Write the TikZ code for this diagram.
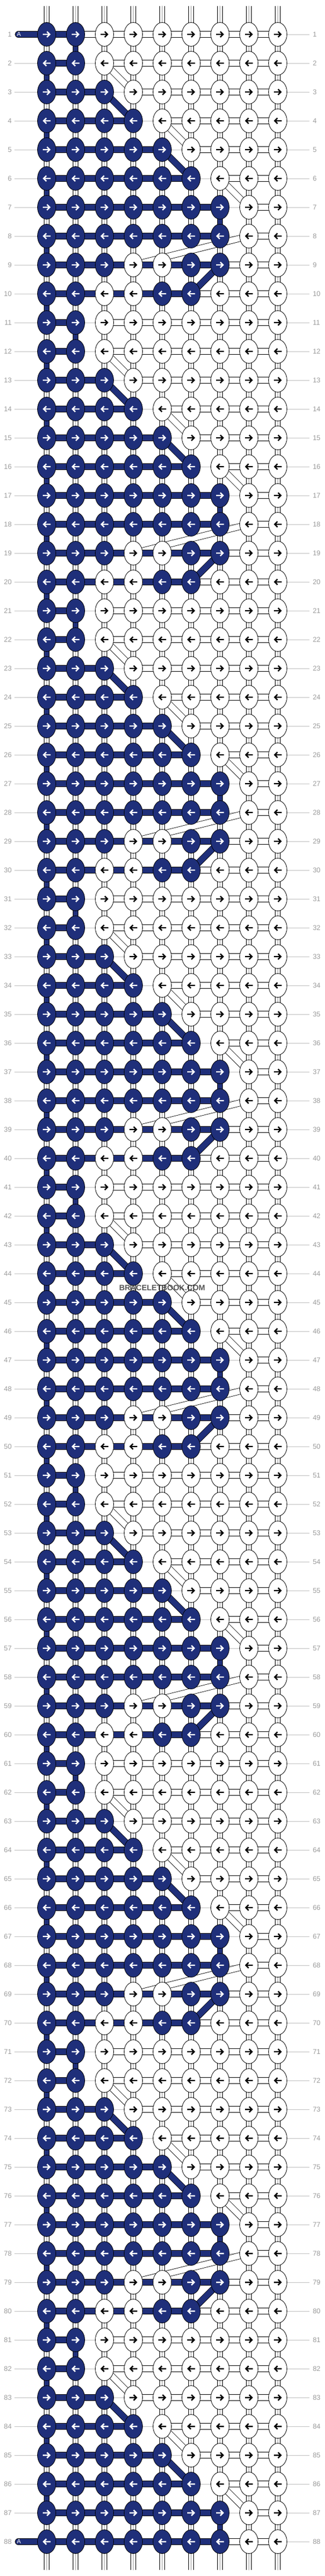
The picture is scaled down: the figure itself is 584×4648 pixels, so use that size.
\documentclass[tikz,border=0pt]{standalone}
\usepackage{fontspec}
\setmainfont{Liberation Sans}
\usetikzlibrary{shapes.geometric}

\definecolor{threadblue}{RGB}{31,47,122}
\definecolor{rowgray}{RGB}{192,192,192}
\definecolor{numgray}{RGB}{155,155,155}
\definecolor{coregray}{RGB}{200,200,200}

% The pattern repeats every ten rows
% knots of each row, 1 = blue
\def\knotmap{{1,1,0,0,0,0,0,0,0,%
1,1,0,0,0,0,0,0,0,%
1,1,1,0,0,0,0,0,0,%
1,1,1,1,0,0,0,0,0,%
1,1,1,1,1,0,0,0,0,%
1,1,1,1,1,1,0,0,0,%
1,1,1,1,1,1,1,0,0,%
1,1,1,1,1,1,1,0,0,%
1,1,1,0,0,1,1,0,0,%
1,1,0,0,1,1,0,0,0}}
% links between neighbour knots, 0 = none, 1 = white, 2 = blue
\def\linkmap{{2,0,1,1,1,1,1,1,%
2,0,1,1,1,1,1,1,%
2,2,0,1,1,1,1,1,%
2,2,2,0,1,1,1,1,%
2,2,2,2,0,1,1,1,%
2,2,2,2,2,0,1,1,%
2,2,2,2,2,2,0,1,%
2,2,2,2,2,2,0,1,%
2,2,2,2,2,2,1,1,%
2,2,2,2,2,1,1,1}}
% column where the blue thread goes down to the next row, 0 = nowhere
\def\dropmap{{2,1,0,1,0,1,7,1,0,1}}

\tikzset{
  knot/.style={ellipse, draw=black, line width=0.8pt, minimum width=33pt,
    minimum height=43pt, inner sep=0pt},
  blue knot/.style={knot, fill=threadblue},
  white knot/.style={knot, fill=white},
  blue link/.style={draw=black, line width=0.8pt, double=threadblue, double distance=10.4pt},
  white link/.style={draw=black, line width=0.8pt, double=white, double distance=10.4pt},
  blue pass/.style={draw=black, line width=0.8pt, double=threadblue, double distance=8.4pt},
  white pass/.style={draw=coregray, line width=1.4pt,
    preaction={draw=black, line width=0.8pt, double=white, double distance=8.4pt}},
  row line/.style={draw=rowgray, line width=0.8pt},
  row num/.style={text=numgray, font=\fontsize{12.5}{14}\selectfont, inner sep=0pt},
  thread name/.style={text=white, font=\fontsize{11}{12}\selectfont, inner sep=0pt},
  watermark/.style={text=black!78, opacity=0.85, font=\bfseries\fontsize{14}{16}\selectfont},
  pics/arrow right/.style={code={\draw[line width=2.4pt, line join=miter]
    (-7,0) -- (5,0) (0.5,-5) -- (5.5,0) -- (0.5,5);}},
  pics/arrow left/.style={code={\draw[line width=2.4pt, line join=miter]
    (7,0) -- (-5,0) (-0.5,-5) -- (-5.5,0) -- (-0.5,5);}},
}

\begin{document}
\begin{tikzpicture}[x=1pt,y=-1pt]
\useasboundingbox (0,0) rectangle (584,4648);

% Grid points, row numbers and the thin row lines
\foreach \row in {1,...,88}{
  \foreach \col in {1,...,9}
    \coordinate (p-\row-\col) at ({32+52*\col},{10+52*\row});
  \node[row num, anchor=east, outer xsep=5pt] (ln-\row) at (26,{10+52*\row}) {\row};
  \node[row num, anchor=west, outer xsep=6pt] (rn-\row) at (557,{10+52*\row}) {\row};
  \draw[row line] (ln-\row) -- (rn-\row);
}

% The loose ends at top and bottom
\foreach \col in {1,...,9}{
  \coordinate (top-\col) at ({32+52*\col},11);
  \coordinate (bot-\col) at ({32+52*\col},4637);
  \draw[white pass, line cap=round] (top-\col) -- (p-1-\col);
  \draw[white pass, line cap=round] (p-88-\col) -- (bot-\col);
}

% Threads going down from one row to the next
\foreach \row in {1,...,87}{
  \pgfmathtruncatemacro\nxt{\row+1}
  \pgfmathtruncatemacro\drop{\dropmap[mod(\row-1,10)]}
  \foreach \col in {1,...,9}{
    \ifnum\col=\drop\relax
      \draw[blue pass] (p-\row-\col) -- (p-\nxt-\col);
    \else
      \draw[white pass] (p-\row-\col) -- (p-\nxt-\col);
    \fi
  }
}

% Slanted threads at the turning points
\foreach \per in {0,...,8}{
  \foreach \i/\ca/\cb/\tone in {2/3/4/white,3/3/4/blue,4/5/6/white,5/5/6/blue,
      6/7/8/white,8/8/4/white,9/7/6/blue}{
    \pgfmathtruncatemacro\row{10*\per+\i}
    \pgfmathtruncatemacro\nxt{\row+1}
    \ifnum\nxt<89 \draw[\tone\space link] (p-\row-\ca) -- (p-\nxt-\cb); \fi
  }
}

% Links across each row
\foreach \row in {1,...,88}{
  \foreach \col in {1,...,8}{
    \pgfmathtruncatemacro\nxt{\col+1}
    \pgfmathtruncatemacro\kind{(\row==1 && \col==2) || (\row==88 && \col==7) ? 1 :
      \linkmap[8*mod(\row-1,10)+\col-1]}
    \ifcase\kind\or
      \draw[white link] (p-\row-\col) -- (p-\row-\nxt);
    \or
      \draw[blue link] (p-\row-\col) -- (p-\row-\nxt);
    \fi
  }
}

% Thread A comes in at the first row and leaves at the last
\coordinate (a-in) at (33,62);
\coordinate (a-out) at (33,4586);
\draw[blue link, line cap=round] (a-in) -- (p-1-1);
\draw[blue link, line cap=round] (a-out) -- (p-88-1);

% The knots with their arrows
\foreach \row in {1,...,88}{
  \pgfmathtruncatemacro\isodd{mod(\row,2)}
  \foreach \col in {1,...,9}{
    \pgfmathtruncatemacro\isblue{\knotmap[9*mod(\row-1,10)+\col-1]}
    \ifnum\isblue=1
      \node[blue knot] (k-\row-\col) at (p-\row-\col) {};
      \def\ink{white}
    \else
      \node[white knot] (k-\row-\col) at (p-\row-\col) {};
      \def\ink{black}
    \fi
    \ifnum\isodd=1
      \pic[color=\ink] at (k-\row-\col) {arrow right};
    \else
      \pic[color=\ink] at (k-\row-\col) {arrow left};
    \fi
  }
}

\node[thread name] (a-1) at (34,62) {A};
\node[thread name] (a-88) at (34,4586) {A};

\node[watermark] (wm) at (292,2324) {BRACELETBOOK.COM};

\end{tikzpicture}
\end{document}
